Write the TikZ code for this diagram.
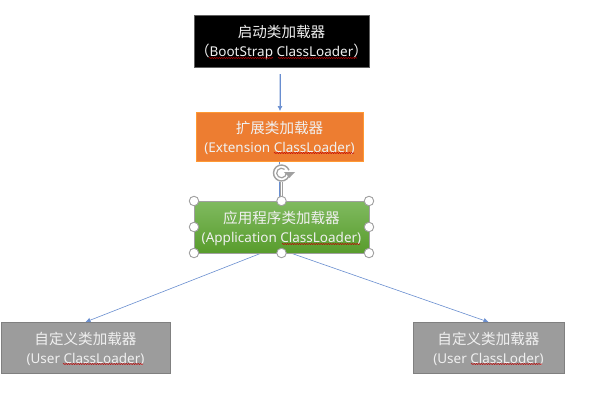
\documentclass[tikz,border=0pt]{standalone}
\usepackage{fontspec}
\setmainfont{Noto Sans}
\newfontfamily\cjk[Scale=1.08]{Noto Sans CJK SC}
\usetikzlibrary{arrows.meta,backgrounds,decorations.pathmorphing}
\definecolor{linkblue}{HTML}{4472C4}
\definecolor{handlegray}{HTML}{A0A0A0}
\definecolor{loadergray}{HTML}{9C9C9C}
\newcommand{\toppad}{\rule{0pt}{15pt}}
\tikzset{
  loader/.style={draw=#1,line width=.8pt,text=white!94!black,align=center,inner sep=0pt,outer sep=0pt,
    minimum height=51pt,font=\fontsize{13.5}{18.5}\selectfont},
  link/.style={draw=linkblue!80!white,line width=.6pt,-{Latex[length=5pt,width=5pt]}},
  handle/.style={circle,draw=handlegray,fill=white,line width=.9pt,minimum size=9.5pt,inner sep=0pt},
  spell/.style={draw=red!75!black,line width=.55pt,decorate,decoration={snake,amplitude=.5pt,segment length=2.4pt}}
}
\begin{document}
\begin{tikzpicture}[x=1pt,y=-1pt]
\useasboundingbox (0,0) rectangle (600,400);

% loader boxes
\node[loader=handlegray!60!black,fill=black,minimum width=175pt,minimum height=52pt] (boot) at (281.5,41)
  {\toppad{\cjk 启动类加载器}\\{\cjk （}BootStrap ClassLoader{\cjk ）}};
\node[loader=orange!80!white,fill={rgb,255:red,237;green,125;blue,49},minimum width=167pt,minimum height=49pt] (ext) at (279.5,136.5)
  {\toppad{\cjk 扩展类加载器}\\(Extension ClassLoader)};
\node[loader=handlegray,top color={rgb,255:red,128;green,186;blue,96},bottom color={rgb,255:red,88;green,156;blue,44},
  minimum width=175pt,minimum height=52pt] (app) at (281.5,227)
  {\toppad{\cjk 应用程序类加载器}\\(Application ClassLoader)};
\node[loader=gray,fill=loadergray,minimum width=169pt] (userA) at (85.5,347.5)
  {\toppad{\cjk 自定义类加载器}\\(User ClassLoader)};
\node[loader=gray,fill=loadergray,minimum width=151pt] (userB) at (488.5,347.5)
  {\toppad{\cjk 自定义类加载器}\\(User ClassLoder)};

% connectors run underneath the boxes
\coordinate (appL) at (282,245);
\coordinate (appR) at (282,250);
\begin{scope}[on background layer]
  \fill[white] (0,0) rectangle (600,400);
  \draw[linkblue!30!white,line width=2pt] (280,74) -- (280,107);
  \draw[link,shorten >=1pt] (280,74) -- (ext.north -| 280,0);
  \draw[link] (appL) -- (userA.north);
  \draw[link] (appR) -- (userB.north);
\end{scope}

% spell-check underlines
\draw[spell] (209,58) -- (273,58);
\draw[spell] (278,58) -- (357,58);
\draw[spell] (274,153) -- (354,153);
\draw[spell] (282,244) -- (360,244);
\draw[spell] (63,364) -- (143,364);
\draw[spell] (471,364) -- (542,364);

% selection frame: rotation stem and arrow
\coordinate (rotC) at (281.5,173);
\draw[handlegray,line width=3pt] (app.north) -- (rotC);
\draw[white,line width=1.2pt] (app.north) -- (rotC);
\draw[linkblue!80!white,line width=.5pt] (279.5,162) -- (279.5,200);
\fill[white] (rotC) circle (9pt);
\draw[handlegray,line width=1.4pt] (rotC) ++(20:8pt) arc (20:340:8pt);
\draw[handlegray,line width=1.2pt] (rotC) ++(50:4.8pt) arc (50:360:4.8pt);
\fill[handlegray] (rotC) ++(2.5,-1) -- ++(11,0) -- ++(-5.5,5.8) -- cycle;

% selection handles
\foreach \p in {north west,north,north east,west,east,south west,south,south east}
  \node[handle] at (app.\p) {};
\end{tikzpicture}
\end{document}
